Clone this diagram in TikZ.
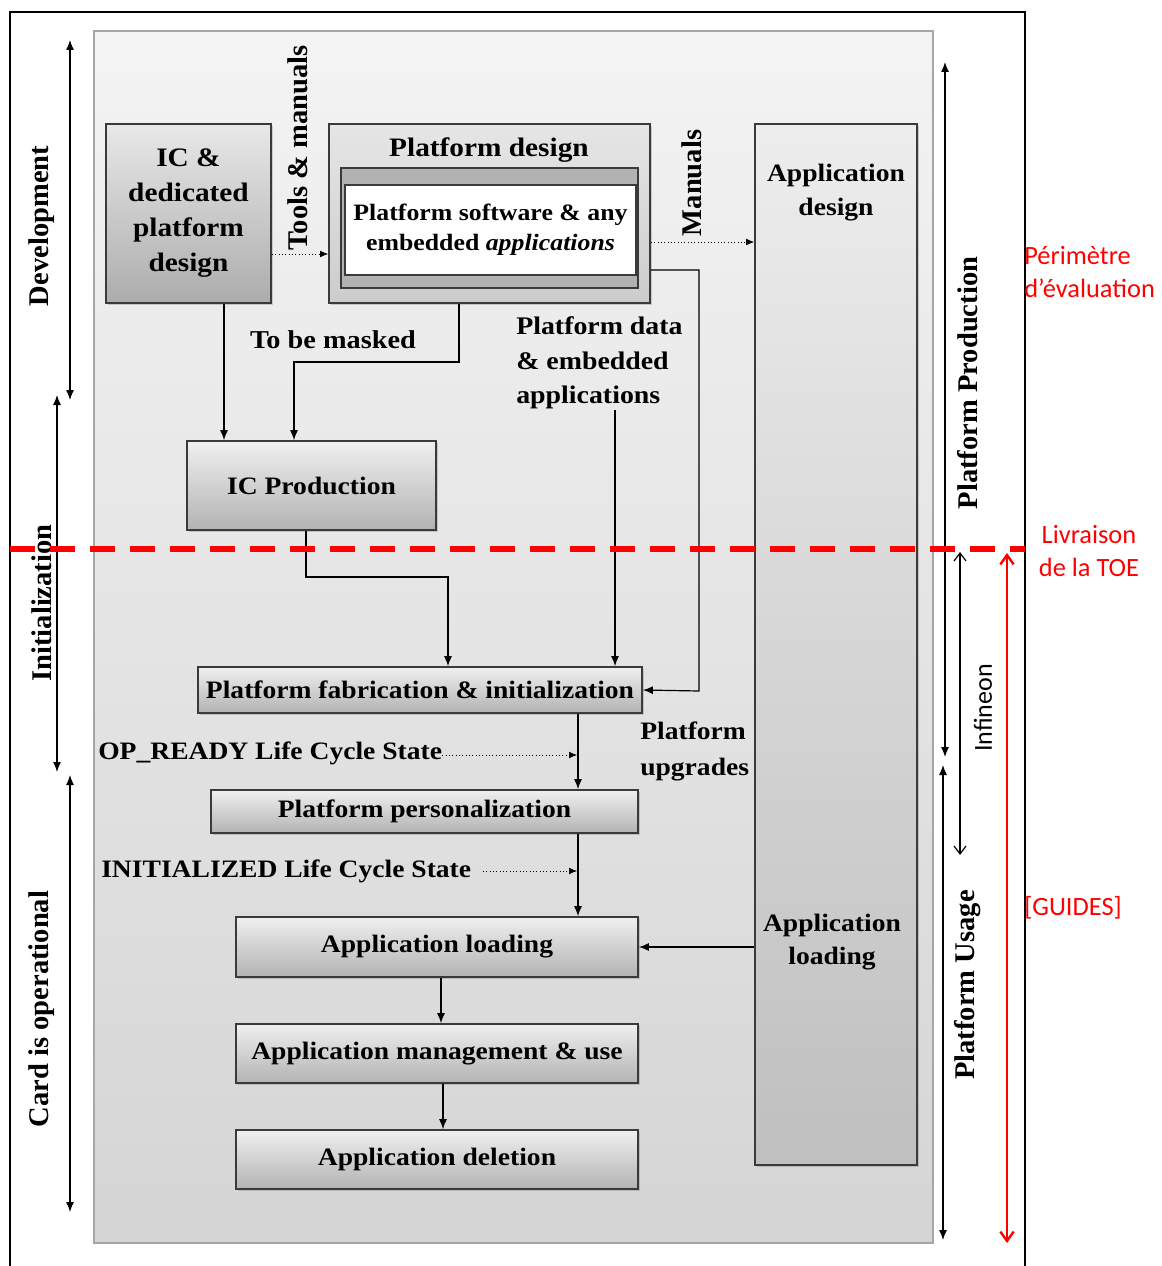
\documentclass[tikz,border=0pt]{standalone}
\usepackage{fontspec}
\setmainfont[FakeStretch=1.1]{Liberation Serif}
\newfontfamily\vfont{Liberation Serif}
\newfontfamily\cfont{Carlito}
\usetikzlibrary{arrows.meta,shadows}
\definecolor{edge}{HTML}{3A3A3A}
\definecolor{redc}{HTML}{FF0000}
\begin{document}
\begin{tikzpicture}[x=0.75pt,y=-0.75pt,
  wh/.style 2 args={minimum width=#1*0.75pt, minimum height=#2*0.75pt},
  box/.style={draw=edge, line width=1.3pt, top color=#1, bottom color=gray!60, inner sep=0pt,
     align=center, font=\bfseries\fontsize{18.8}{22}\selectfont,
     drop shadow={shadow xshift=1.5pt, shadow yshift=-1.5pt, opacity=0.35}},
  box/.default=gray!12,
  lab/.style={inner sep=0pt, font=\bfseries\fontsize{18.8}{26}\selectfont},
  rlab/.style={rotate=90, inner sep=0pt, font=\vfont\bfseries\fontsize{21.4}{24}\selectfont},
  arr/.style={line width=0.9pt, -{Latex[length=7.5pt,width=6pt]}},
  darr/.style={line width=0.9pt, {Latex[length=7.5pt,width=6pt]}-{Latex[length=7.5pt,width=6pt]}},
  dotarr/.style={line width=0.5pt, dotted, -{Latex[length=6pt,width=5pt]}},
  red/.style={text=redc, inner sep=0pt, font=\cfont\fontsize{19.8}{24.5}\selectfont}
]
\useasboundingbox (0,0) rectangle (1162,1266);

% outer frame
\coordinate (fl) at (10,1266); \coordinate (ft) at (10,12);
\coordinate (frt) at (1025,12); \coordinate (frb) at (1025,1266);
\draw[line width=1.5pt] (fl) -- (ft) -- (frt) -- (frb);

% panel
\draw[draw=gray!70, line width=1.2pt, top color=gray!9, bottom color=gray!33] (94,31) rectangle (933,1243);

% boxes
\node[box=gray!18, wh={165}{179}, bottom color=gray!65, font=\bfseries\fontsize{20}{26.25}\selectfont] (icd) at (188.5,213.5) {IC \&\\dedicated\\platform\\design};
\node[box=gray!20, wh={321}{179}, bottom color=gray!40] (pd) at (489.5,213.5) {};
\node[lab, font=\bfseries\fontsize{20}{24}\selectfont] (pdt) at (489,150) {Platform design};
\node[draw=edge, fill=gray!60, line width=1pt, wh={297}{120}, inner sep=0pt] (pdband) at (489.5,228) {};
\node[draw=edge, fill=white, line width=1pt, wh={291}{90}, inner sep=0pt, align=center,
      font=\bfseries\fontsize{17.6}{22.5}\selectfont] (pdin) at (490.5,230) {Platform software \& any\\embedded \textit{applications}};
\node[box=gray!14, wh={162}{1041}, bottom color=gray!50] (appd) at (836,644.5) {};
\node[lab, align=center, font=\bfseries\fontsize{18.8}{25.5}\selectfont] (appdt) at (836,193) {Application\\design};
\node[lab, align=center, font=\bfseries\fontsize{18.8}{25}\selectfont] (appl) at (832,942) {Application\\loading};

\node[box, wh={249}{89}] (icp) at (311.5,485.5) {IC Production};
\node[box, wh={444}{46}] (fab) at (420,690) {Platform fabrication \& initialization};
\node[box, wh={427}{43}] (pers) at (424.5,811.5) {Platform personalization};
\node[box, wh={402}{60}] (aload) at (437,947) {Application loading};
\node[box, wh={402}{59}] (amgmt) at (437,1053.5) {Application management \& use};
\node[box, wh={402}{59}] (adel) at (437,1159.5) {Application deletion};

% labels
\node[lab, font=\bfseries\fontsize{19.3}{24}\selectfont] (mask) at (333,340) {To be masked};
\node[lab, anchor=west, align=left, font=\bfseries\fontsize{19}{26}\selectfont] (pdata) at (516,363) {Platform data\\\& embedded\\applications};
\node[lab, anchor=west] (opr) at (98,753) {OP\_READY Life Cycle State};
\node[lab, anchor=west] (initl) at (101,871) {INITIALIZED Life Cycle State};
\node[lab, anchor=west, align=left, font=\bfseries\fontsize{18.8}{27}\selectfont] (upg) at (640,751) {Platform\\upgrades};

% rotated labels
\node[rlab] (ldev) at (42,226) {Development};
\node[rlab] (linit) at (42,603) {Initialization};
\node[rlab] (lcard) at (42,1009) {Card is operational};
\node[rlab] (ltools) at (298,148) {Tools \& manuals};
\node[rlab] (lman) at (692,183) {Manuals};
\node[rlab] (lprod) at (968,383) {Platform Production};
\node[rlab] (luse) at (968,985) {Platform Usage};
\node[rotate=90, inner sep=0pt, font=\cfont\fontsize{19.5}{24}\selectfont] (linf) at (983,708) {Infineon};

% red texts
\node[red, anchor=west, align=left] (perim) at (1024,272) {Périmètre\\d’évaluation};
\node[red, align=center] (livr) at (1089,551) {Livraison\\de la TOE};
\node[red, anchor=west] (guides) at (1024,908) {[GUIDES]};

% connectors
\draw[dotarr] (icd.east |- 0,254) -- (pd.west |- 0,254);
\draw[dotarr] (pd.east |- 0,242) -- (appd.west |- 0,242);
\draw[arr] (icd.south -| 224,0) -- (icp.north -| 224,0);
\draw[arr] (pd.south -| 459,0) -- (459,362) -- (294,362) -- (icp.north -| 294,0);
\draw[arr] (pd.east |- 0,270) -- (699,270) -- (699,691) -- (fab.east);
\draw[arr] (pdata.south -| 615,0) -- (fab.north -| 615,0);
\draw[arr] (icp.south -| 306,0) -- (306,577) -- (448,577) -- (fab.north -| 448,0);
\draw[arr] (fab.south -| 578,0) -- (pers.north -| 578,0);
\coordinate (opend) at (577,755);
\draw[dotarr] (opr.east |- 0,755) -- (opend);
\draw[arr] (pers.south -| 578,0) -- (aload.north -| 578,0);
\coordinate (instart) at (483,871); \coordinate (inend) at (577,871);
\draw[dotarr] (instart) -- (inend);
\draw[arr] (appd.west |- aload.east) -- (aload.east);
\draw[arr] (aload.south -| 441,0) -- (amgmt.north -| 441,0);
\draw[arr] (amgmt.south -| 443,0) -- (adel.north -| 443,0);

% side arrows
\coordinate (d1) at (70,40); \coordinate (d2) at (70,400);
\coordinate (i1) at (57,395); \coordinate (i2) at (57,772);
\coordinate (c1) at (70,775); \coordinate (c2) at (70,1212);
\coordinate (p1) at (945,62); \coordinate (p2) at (945,757);
\coordinate (u1) at (943,765); \coordinate (u2) at (943,1240);
\coordinate (n1) at (960,552); \coordinate (n2) at (960,855);
\coordinate (r1) at (1007,553); \coordinate (r2) at (1007,1243);
\draw[darr] (d1) -- (d2);
\draw[darr] (i1) -- (i2);
\draw[darr] (c1) -- (c2);
\draw[darr] (p1) -- (p2);
\draw[darr] (u1) -- (u2);
\draw[line width=0.9pt, {Straight Barb[length=6pt,width=9pt]}-{Straight Barb[length=6pt,width=9pt]}] (n1) -- (n2);
\draw[redc, line width=1.8pt, {Straight Barb[length=7pt,width=10pt]}-{Straight Barb[length=7pt,width=10pt]}] (r1) -- (r2);

% red dashed delivery line
\coordinate (dl) at (10,549); \coordinate (dr) at (1025,549);
\draw[redc, line width=4.5pt, dash pattern=on 19pt off 11pt] (dl) -- (dr);
\end{tikzpicture}
\end{document}
